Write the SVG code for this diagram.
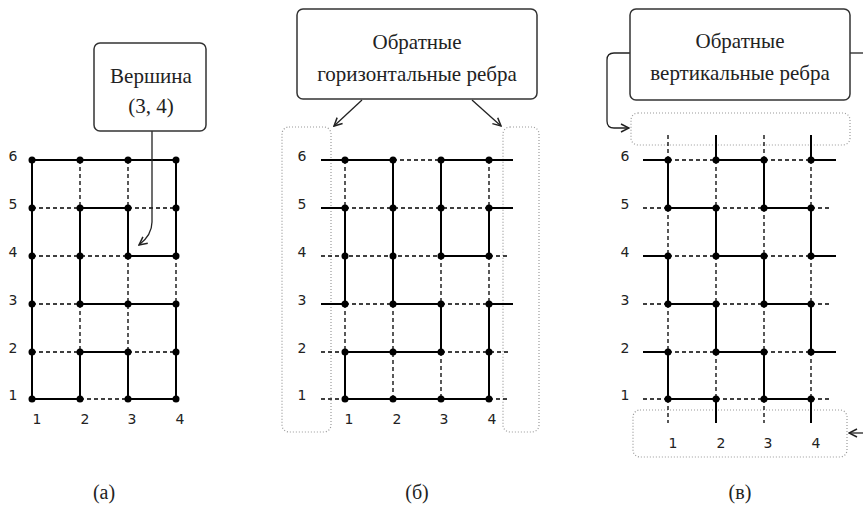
<svg xmlns="http://www.w3.org/2000/svg" width="863" height="506" viewBox="0 0 863 506">
<style>
.bg{fill:#fff}
.sol{fill:none;stroke:#000;stroke-width:2;stroke-linejoin:miter;stroke-linecap:butt}
.dsh{fill:none;stroke:#000;stroke-width:1.3;stroke-dasharray:4 3}
.v circle{fill:#000}
.box{fill:#fff;stroke:#333;stroke-width:1.5}
.dot{fill:none;stroke:#999;stroke-width:1.2;stroke-dasharray:1 2}
.con{fill:none;stroke:#222;stroke-width:1.3}
.bt{font-family:"Liberation Serif","Times New Roman",serif;font-size:21px;fill:#222;text-anchor:middle}
.num{font-family:"DejaVu Sans","Liberation Sans",sans-serif;font-size:14px;fill:#222;text-anchor:middle}
.cap{font-family:"Liberation Serif","Times New Roman",serif;font-size:20px;fill:#222;text-anchor:middle}
</style>
<defs>
<marker id="arr" viewBox="0 0 10 10" refX="9" refY="5" markerWidth="10" markerHeight="10" markerUnits="userSpaceOnUse" orient="auto">
<path d="M1,1 L9,5 L1,9" fill="none" stroke="#222" stroke-width="1.5"/>
</marker>
</defs>
<rect class="bg" x="0" y="0" width="863" height="506"/>

<!-- dotted regions -->
<g id="regions">
<rect class="dot" x="282" y="127" width="49" height="305" rx="7"/>
<rect class="dot" x="503" y="127" width="36" height="305" rx="7"/>
<rect class="dot" x="631" y="113" width="219" height="32" rx="7"/>
<rect class="dot" x="633" y="410" width="214" height="47" rx="7"/>
</g>

<g id="connectors">
<!-- panel a grid -->
<path class="dsh" d="M32,208H80M128,208H176M32,256H128M32,304H80M32,352H80M128,352H176M80,399H128M80,160V208M80,304V352M128,160V208M128,256V352M176,256V304"/>
<path class="sol" d="M32,399V160H176V256H128V208H80V304H176V399H128V352H80V399Z"/>
<!-- panel b grid -->
<path class="dsh" d="M393,160H441M345,208H489M321,256H441M489,256H510M345,304H393M441,304H489M321,352H345M441,352H510M321,399H345M489,399H510M345,160V208M345,304V352M393,304V399M441,256V304M441,352V399M489,160V208M489,256V304"/>
<path class="sol" d="M321,160H393M441,160H513M321,208H345M489,208H513M441,256H489M321,304H345M393,304H441M489,304H513M345,352H441M345,399H489M345,208V304M345,352V399M393,160V304M441,160V256M441,304V352M489,208V256M489,304V399"/>
<!-- panel c grid -->
<path class="dsh" d="M668,160H716M764,160H811M643,208H668M716,208H764M811,208H832M668,256H716M764,256H811M643,304H668M716,304H764M811,304H832M668,352H716M764,352H811M643,399H668M716,399H764M811,399H832M668,135V160M668,208V256M668,304V352M668,399V423M716,160V208M716,256V304M716,352V399M764,135V160M764,208V256M764,304V352M764,399V423M811,160V208M811,256V304M811,352V399"/>
<path class="sol" d="M643,160H668M716,160H764M811,160H836M668,208H716M764,208H811M643,256H668M716,256H764M811,256H836M668,304H716M764,304H811M643,352H668M716,352H764M811,352H836M668,399H716M764,399H811M668,160V208M668,256V304M668,352V399M716,135V160M716,208V256M716,304V352M716,399V423M764,160V208M764,256V304M764,352V399M811,135V160M811,208V256M811,304V352M811,399V423"/>
<!-- callout connectors -->
<path class="con" d="M152,131V222Q152,235 139,245" marker-end="url(#arr)"/>
<path class="con" d="M362,100L334,126" marker-end="url(#arr)"/>
<path class="con" d="M472,100L501,126" marker-end="url(#arr)"/>
<path class="con" d="M630,53H614Q607,53 607,60V121Q607,128 614,128H629" marker-end="url(#arr)"/>
<path class="con" d="M850,53H863"/>
<path class="con" d="M863,433H849" marker-end="url(#arr)"/>
</g>

<!-- callout boxes -->
<g id="box-a"><rect class="box" x="94" y="43" width="112" height="88" rx="6"/><text class="bt" x="151" y="83">Вершина</text><text class="bt" x="151" y="113">(3, 4)</text></g>
<g id="box-b"><rect class="box" x="297" y="9" width="240" height="90" rx="6"/><text class="bt" x="417" y="49">Обратные</text><text class="bt" x="417" y="81">горизонтальные ребра</text></g>
<g id="box-c"><rect class="box" x="630" y="9" width="220" height="91" rx="6"/><text class="bt" x="740" y="48">Обратные</text><text class="bt" x="740" y="80">вертикальные ребра</text></g>

<!-- panel a vertices -->
<g id="a-1-1" class="v"><circle cx="32" cy="399" r="3.5"/></g>
<g id="a-2-1" class="v"><circle cx="80" cy="399" r="3.5"/></g>
<g id="a-3-1" class="v"><circle cx="128" cy="399" r="3.5"/></g>
<g id="a-4-1" class="v"><circle cx="176" cy="399" r="3.5"/></g>
<g id="a-1-2" class="v"><circle cx="32" cy="352" r="3.5"/></g>
<g id="a-2-2" class="v"><circle cx="80" cy="352" r="3.5"/></g>
<g id="a-3-2" class="v"><circle cx="128" cy="352" r="3.5"/></g>
<g id="a-4-2" class="v"><circle cx="176" cy="352" r="3.5"/></g>
<g id="a-1-3" class="v"><circle cx="32" cy="304" r="3.5"/></g>
<g id="a-2-3" class="v"><circle cx="80" cy="304" r="3.5"/></g>
<g id="a-3-3" class="v"><circle cx="128" cy="304" r="3.5"/></g>
<g id="a-4-3" class="v"><circle cx="176" cy="304" r="3.5"/></g>
<g id="a-1-4" class="v"><circle cx="32" cy="256" r="3.5"/></g>
<g id="a-2-4" class="v"><circle cx="80" cy="256" r="3.5"/></g>
<g id="a-3-4" class="v"><circle cx="128" cy="256" r="3.5"/></g>
<g id="a-4-4" class="v"><circle cx="176" cy="256" r="3.5"/></g>
<g id="a-1-5" class="v"><circle cx="32" cy="208" r="3.5"/></g>
<g id="a-2-5" class="v"><circle cx="80" cy="208" r="3.5"/></g>
<g id="a-3-5" class="v"><circle cx="128" cy="208" r="3.5"/></g>
<g id="a-4-5" class="v"><circle cx="176" cy="208" r="3.5"/></g>
<g id="a-1-6" class="v"><circle cx="32" cy="160" r="3.5"/></g>
<g id="a-2-6" class="v"><circle cx="80" cy="160" r="3.5"/></g>
<g id="a-3-6" class="v"><circle cx="128" cy="160" r="3.5"/></g>
<g id="a-4-6" class="v"><circle cx="176" cy="160" r="3.5"/></g>

<!-- panel b vertices -->
<g id="b-1-1" class="v"><circle cx="345" cy="399" r="3.5"/></g>
<g id="b-2-1" class="v"><circle cx="393" cy="399" r="3.5"/></g>
<g id="b-3-1" class="v"><circle cx="441" cy="399" r="3.5"/></g>
<g id="b-4-1" class="v"><circle cx="489" cy="399" r="3.5"/></g>
<g id="b-1-2" class="v"><circle cx="345" cy="352" r="3.5"/></g>
<g id="b-2-2" class="v"><circle cx="393" cy="352" r="3.5"/></g>
<g id="b-3-2" class="v"><circle cx="441" cy="352" r="3.5"/></g>
<g id="b-4-2" class="v"><circle cx="489" cy="352" r="3.5"/></g>
<g id="b-1-3" class="v"><circle cx="345" cy="304" r="3.5"/></g>
<g id="b-2-3" class="v"><circle cx="393" cy="304" r="3.5"/></g>
<g id="b-3-3" class="v"><circle cx="441" cy="304" r="3.5"/></g>
<g id="b-4-3" class="v"><circle cx="489" cy="304" r="3.5"/></g>
<g id="b-1-4" class="v"><circle cx="345" cy="256" r="3.5"/></g>
<g id="b-2-4" class="v"><circle cx="393" cy="256" r="3.5"/></g>
<g id="b-3-4" class="v"><circle cx="441" cy="256" r="3.5"/></g>
<g id="b-4-4" class="v"><circle cx="489" cy="256" r="3.5"/></g>
<g id="b-1-5" class="v"><circle cx="345" cy="208" r="3.5"/></g>
<g id="b-2-5" class="v"><circle cx="393" cy="208" r="3.5"/></g>
<g id="b-3-5" class="v"><circle cx="441" cy="208" r="3.5"/></g>
<g id="b-4-5" class="v"><circle cx="489" cy="208" r="3.5"/></g>
<g id="b-1-6" class="v"><circle cx="345" cy="160" r="3.5"/></g>
<g id="b-2-6" class="v"><circle cx="393" cy="160" r="3.5"/></g>
<g id="b-3-6" class="v"><circle cx="441" cy="160" r="3.5"/></g>
<g id="b-4-6" class="v"><circle cx="489" cy="160" r="3.5"/></g>

<!-- panel c vertices -->
<g id="c-1-1" class="v"><circle cx="668" cy="399" r="3.5"/></g>
<g id="c-2-1" class="v"><circle cx="716" cy="399" r="3.5"/></g>
<g id="c-3-1" class="v"><circle cx="764" cy="399" r="3.5"/></g>
<g id="c-4-1" class="v"><circle cx="811" cy="399" r="3.5"/></g>
<g id="c-1-2" class="v"><circle cx="668" cy="352" r="3.5"/></g>
<g id="c-2-2" class="v"><circle cx="716" cy="352" r="3.5"/></g>
<g id="c-3-2" class="v"><circle cx="764" cy="352" r="3.5"/></g>
<g id="c-4-2" class="v"><circle cx="811" cy="352" r="3.5"/></g>
<g id="c-1-3" class="v"><circle cx="668" cy="304" r="3.5"/></g>
<g id="c-2-3" class="v"><circle cx="716" cy="304" r="3.5"/></g>
<g id="c-3-3" class="v"><circle cx="764" cy="304" r="3.5"/></g>
<g id="c-4-3" class="v"><circle cx="811" cy="304" r="3.5"/></g>
<g id="c-1-4" class="v"><circle cx="668" cy="256" r="3.5"/></g>
<g id="c-2-4" class="v"><circle cx="716" cy="256" r="3.5"/></g>
<g id="c-3-4" class="v"><circle cx="764" cy="256" r="3.5"/></g>
<g id="c-4-4" class="v"><circle cx="811" cy="256" r="3.5"/></g>
<g id="c-1-5" class="v"><circle cx="668" cy="208" r="3.5"/></g>
<g id="c-2-5" class="v"><circle cx="716" cy="208" r="3.5"/></g>
<g id="c-3-5" class="v"><circle cx="764" cy="208" r="3.5"/></g>
<g id="c-4-5" class="v"><circle cx="811" cy="208" r="3.5"/></g>
<g id="c-1-6" class="v"><circle cx="668" cy="160" r="3.5"/></g>
<g id="c-2-6" class="v"><circle cx="716" cy="160" r="3.5"/></g>
<g id="c-3-6" class="v"><circle cx="764" cy="160" r="3.5"/></g>
<g id="c-4-6" class="v"><circle cx="811" cy="160" r="3.5"/></g>

<!-- axis labels -->
<g id="labels-a" class="num">
<text x="13" y="161">6</text><text x="13" y="209">5</text><text x="13" y="257">4</text><text x="13" y="305">3</text><text x="13" y="353">2</text><text x="13" y="400">1</text>
<text x="37" y="424">1</text><text x="85" y="424">2</text><text x="132" y="424">3</text><text x="180" y="424">4</text>
</g>
<g id="labels-b" class="num">
<text x="302" y="161">6</text><text x="302" y="209">5</text><text x="302" y="257">4</text><text x="302" y="305">3</text><text x="302" y="353">2</text><text x="302" y="400">1</text>
<text x="349" y="424">1</text><text x="397" y="424">2</text><text x="444" y="424">3</text><text x="492" y="424">4</text>
</g>
<g id="labels-c" class="num">
<text x="625" y="161">6</text><text x="625" y="209">5</text><text x="625" y="257">4</text><text x="625" y="305">3</text><text x="625" y="353">2</text><text x="625" y="400">1</text>
<text x="673" y="448">1</text><text x="721" y="448">2</text><text x="768" y="448">3</text><text x="816" y="448">4</text>
</g>

<g id="captions" class="cap">
<text x="104" y="499">(а)</text>
<text x="417" y="499">(б)</text>
<text x="740" y="499">(в)</text>
</g>
</svg>
